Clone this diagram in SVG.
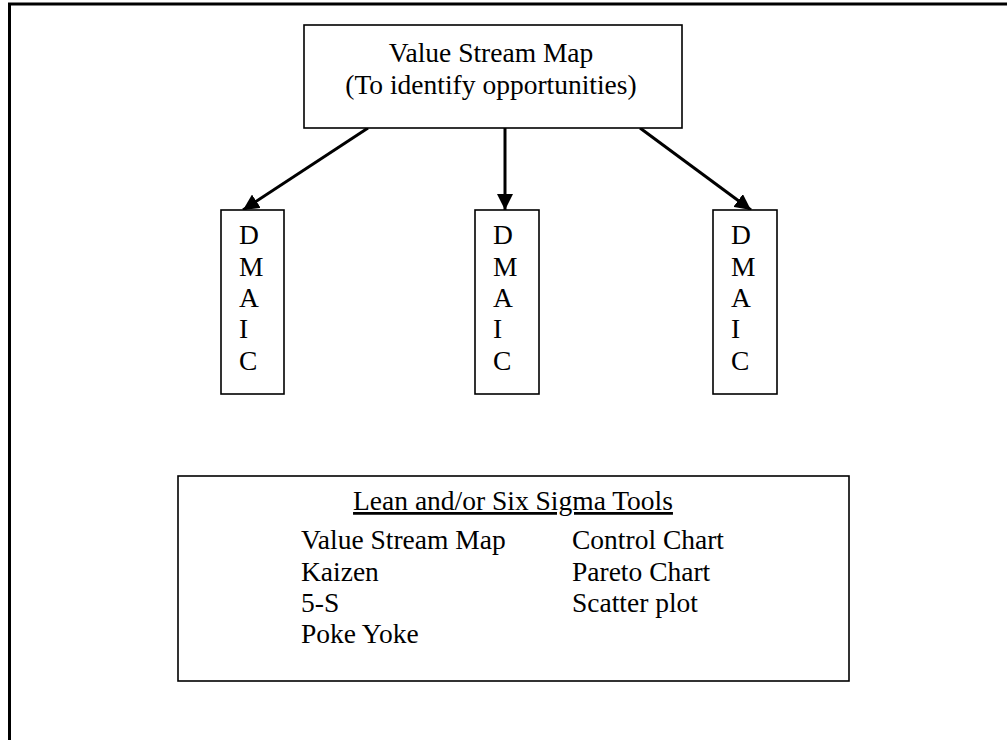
<svg xmlns="http://www.w3.org/2000/svg" width="1007" height="740" viewBox="0 0 1007 740">
<style>
.box{fill:#fff;stroke:#000;stroke-width:1.6}
.t{font-family:"Liberation Serif","Times New Roman",serif;font-size:27.5px;fill:#000}
.c{text-anchor:middle}
.arr{stroke:#000;stroke-width:3;fill:none;marker-end:url(#ah)}
</style>
<defs>
<marker id="ah" markerUnits="userSpaceOnUse" markerWidth="18" markerHeight="16" refX="16" refY="8" orient="auto">
<path d="M0,0 L16,8 L0,16 Z" fill="#000"/>
</marker>
</defs>
<rect width="1007" height="740" fill="#fff"/>
<g id="frame">
<path d="M9.5,740 V4 H1007" fill="none" stroke="#000" stroke-width="3"/>
</g>
<g id="connectors">
<line class="arr" x1="368" y1="128" x2="243" y2="210"/>
<line class="arr" x1="505" y1="128" x2="505" y2="210"/>
<line class="arr" x1="640" y1="128" x2="751" y2="210"/>
</g>
<g id="vsm">
<rect class="box" x="304" y="25" width="378" height="103"/>
<text class="t c" x="491" y="62">Value Stream Map</text>
<text class="t c" x="491" y="94">(To identify opportunities)</text>
</g>
<g id="dmaic1">
<rect class="box" x="221" y="210" width="63" height="184"/>
<text class="t" x="239"><tspan x="239" y="244">D</tspan><tspan x="239" y="276">M</tspan><tspan x="239" y="307">A</tspan><tspan x="239" y="338">I</tspan><tspan x="239" y="370">C</tspan></text>
</g>
<g id="dmaic2">
<rect class="box" x="475" y="210" width="64" height="184"/>
<text class="t" x="493"><tspan x="493" y="244">D</tspan><tspan x="493" y="276">M</tspan><tspan x="493" y="307">A</tspan><tspan x="493" y="338">I</tspan><tspan x="493" y="370">C</tspan></text>
</g>
<g id="dmaic3">
<rect class="box" x="713" y="210" width="64" height="184"/>
<text class="t" x="731"><tspan x="731" y="244">D</tspan><tspan x="731" y="276">M</tspan><tspan x="731" y="307">A</tspan><tspan x="731" y="338">I</tspan><tspan x="731" y="370">C</tspan></text>
</g>
<g id="tools">
<rect class="box" x="178" y="476" width="671" height="205"/>
<text class="t c" x="513" y="510" text-decoration="underline">Lean and/or Six Sigma Tools</text>
<text class="t" x="301" y="549">Value Stream Map</text>
<text class="t" x="301" y="581">Kaizen</text>
<text class="t" x="301" y="612">5-S</text>
<text class="t" x="301" y="643">Poke Yoke</text>
<text class="t" x="572" y="549">Control Chart</text>
<text class="t" x="572" y="581">Pareto Chart</text>
<text class="t" x="572" y="612">Scatter plot</text>
</g>
</svg>
